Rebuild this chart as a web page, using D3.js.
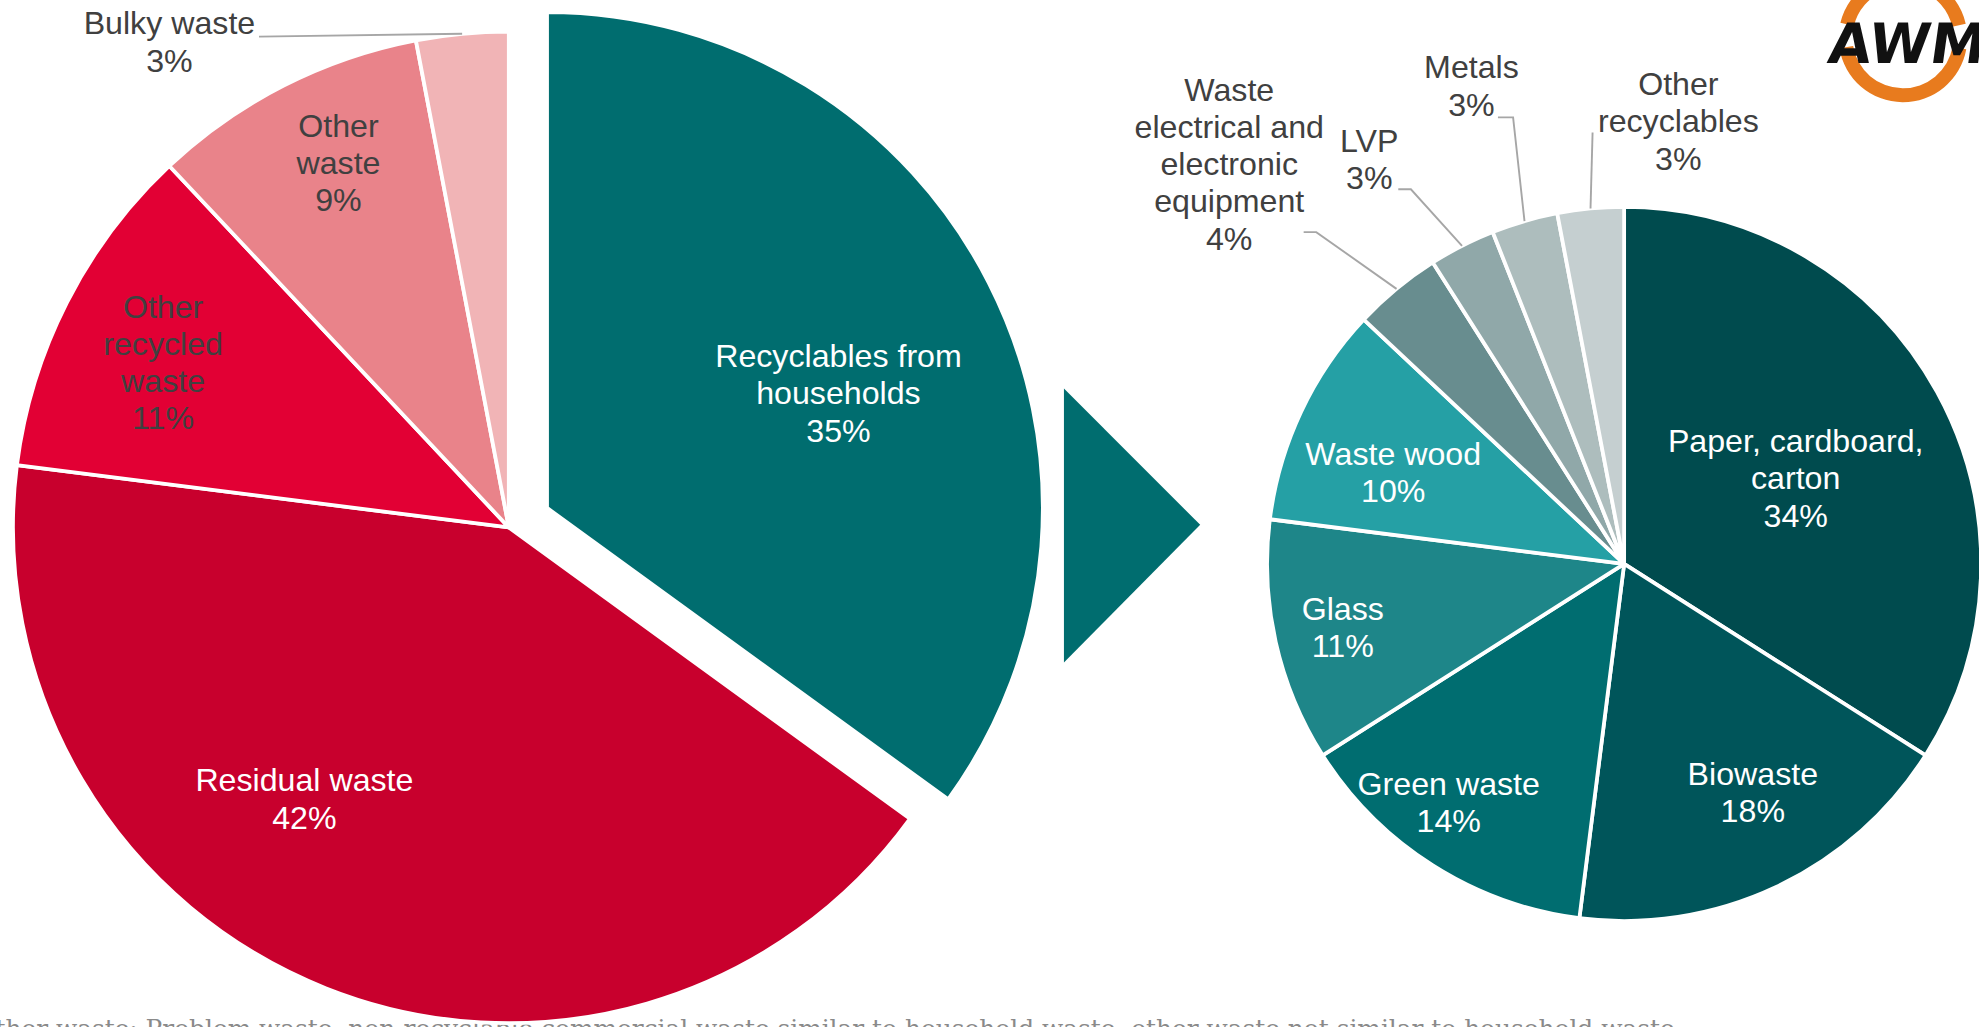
<!DOCTYPE html>
<html>
<head>
<meta charset="utf-8">
<script src="https://cdn.jsdelivr.net/npm/d3@7"></script>
<style>
  html, body { margin: 0; padding: 0; background: #fff; overflow: hidden; }
  text { font-family: "Liberation Sans", Arial, sans-serif; }
</style>
</head>
<body>
<svg id="canvas" width="1979" height="1027" viewBox="0 0 1568 814"></svg>
<script>
// municipal waste split (left) and the recyclables part of it (right), in %
var leftNames = ["Recyclables from households", "Residual waste", "Other recycled waste", "Other waste", "Bulky waste"];
var leftValues = [35, 42, 11, 9, 3];
var leftColors = ["#006d6f", "#c8002d", "#e20034", "#e9838a", "#f1b4b6"];

var rightNames = ["Paper, cardboard, carton", "Biowaste", "Green waste", "Glass", "Waste wood",
                  "Waste electrical and electronic equipment", "LVP", "Metals", "Other recyclables"];
var rightValues = [34, 18, 14, 11, 10, 4, 3, 3, 3];
var rightColors = ["#004b4e", "#00555a", "#006d70", "#1e8689", "#25a0a5", "#688d8f", "#90a8a9", "#adbdbd", "#c5cfd0"];

var footnote = "Other waste: Problem waste, non-recyclable commercial waste similar to household waste, other waste not similar to household waste";

// label layout: line breaks, offset from pie centre, text colour, optional leader start
var leftLabels = [
    {lines: ["Recyclables from", "households"], dx: 231, dy: -91, color: "#fff"},
    {lines: ["Residual waste"], dx: -162, dy: 215, color: "#fff"},
    {lines: ["Other", "recycled", "waste"], dx: -274, dy: -131, color: "#404040"},
    {lines: ["Other", "waste"], dx: -135, dy: -289, color: "#404040"},
    {lines: ["Bulky waste"], dx: -269, dy: -385, color: "#404040", leader: [[205, 29]]}
];
var rightLabels = [
    {lines: ["Paper, cardboard,", "carton"], dx: 136, dy: -68, color: "#fff"},
    {lines: ["Biowaste"], dx: 102, dy: 181, color: "#fff"},
    {lines: ["Green waste"], dx: -139, dy: 189, color: "#fff"},
    {lines: ["Glass"], dx: -223, dy: 50, color: "#fff"},
    {lines: ["Waste wood"], dx: -183, dy: -73, color: "#fff"},
    {lines: ["Waste", "electrical and", "electronic", "equipment"], dx: -313, dy: -317, color: "#404040", leader: [[1033, 184], [1043, 184]]},
    {lines: ["LVP"], dx: -202, dy: -321, color: "#404040", leader: [[1108, 150], [1118, 150]]},
    {lines: ["Metals"], dx: -121, dy: -379, color: "#404040", leader: [[1187, 93], [1199, 93]]},
    {lines: ["Other", "recyclables"], dx: 43, dy: -351, color: "#404040", leader: [[1262, 105]]}
];

var svg = d3.select("#canvas");
var lineH = 29.5;
var fontSize = 25.5;

// footnote sits underneath the big pie
svg.append("text")
    .attr("x", -20)
    .attr("y", 822)
    .attr("textLength", 1347)
    .attr("lengthAdjust", "spacingAndGlyphs")
    .style("font-family", "'DejaVu Serif', 'Liberation Serif', serif")
    .style("font-size", "19px")
    .attr("fill", "#8a8a8a")
    .text(footnote);

function drawPie(cx, cy, r, names, values, colors, labels, explode){
    var pie = d3.pie().sort(null).value(function(d){ return d; });
    var arcs = pie(values);
    var arc = d3.arc().innerRadius(0).outerRadius(r);
    var g = svg.append("g").attr("transform", "translate(" + cx + "," + cy + ")");

    arcs.forEach(function(a, i){
        var mid = (a.startAngle + a.endAngle) / 2;
        var off = explode[i] || 0;
        a.ox = Math.sin(mid) * off;
        a.oy = -Math.cos(mid) * off;
        g.append("path")
            .attr("d", arc(a))
            .attr("transform", "translate(" + a.ox + "," + a.oy + ")")
            .attr("fill", colors[i])
            .attr("stroke", "#fff")
            .attr("stroke-width", 3)
            .attr("stroke-linejoin", "round");
    });

    arcs.forEach(function(a, i){
        var lab = labels[i];
        var mid = (a.startAngle + a.endAngle) / 2;
        if (lab.leader){
            var pts = lab.leader.map(function(p){ return [p[0] - cx, p[1] - cy]; });
            pts.push([Math.sin(mid) * r, -Math.cos(mid) * r]);
            g.append("path")
                .attr("d", d3.line()(pts))
                .attr("fill", "none")
                .attr("stroke", "#a6a6a6")
                .attr("stroke-width", 1.5);
        }
        var lines = lab.lines.concat([values[i] + "%"]);
        var t = g.append("text")
            .attr("text-anchor", "middle")
            .attr("fill", lab.color)
            .style("font-size", fontSize + "px");
        var top = lab.dy - (lines.length - 1) * lineH / 2;
        lines.forEach(function(s, k){
            t.append("tspan")
                .attr("x", lab.dx + a.ox)
                .attr("y", top + k * lineH + a.oy)
                .attr("dy", "0.35em")
                .text(s);
        });
    });
}

drawPie(403, 418, 393, leftNames, leftValues, leftColors, leftLabels, [34, 0, 0, 0, 0]);

// arrow pointing from the recyclables slice to its breakdown
svg.append("path")
    .attr("d", d3.line()([[843, 308], [951, 416], [843, 525]]) + "Z")
    .attr("fill", "#006d6f");

drawPie(1287, 447, 283, rightNames, rightValues, rightColors, rightLabels, []);

// AWM logo, top right (cut by the frame)
var logo = svg.append("g").attr("transform", "translate(1508,30)");
var ring = d3.arc().innerRadius(40).outerRadius(51);
[[0.35, 1.35], [1.75, 4.55], [4.95, 5.9]].forEach(function(seg){
    logo.append("path")
        .attr("d", ring({startAngle: seg[0], endAngle: seg[1]}))
        .attr("fill", "#e87b1e");
});
logo.append("text")
    .attr("x", -58)
    .attr("y", 20)
    .attr("fill", "#111")
    .style("font-family", "'DejaVu Sans', sans-serif")
    .style("font-weight", "bold")
    .style("font-size", "44px")
    .attr("transform", "skewX(-8)")
    .text("AWM");
</script>
</body>
</html>
